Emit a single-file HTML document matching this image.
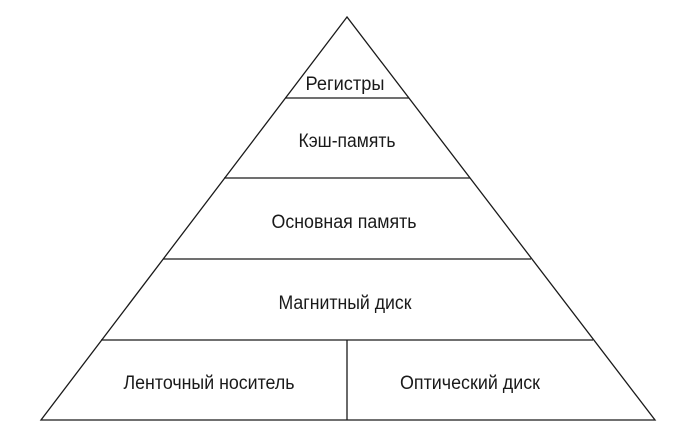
<!DOCTYPE html>
<html><head><meta charset="utf-8"><style>
html,body{margin:0;padding:0;background:#fff;width:691px;height:437px;overflow:hidden}
text{font-family:"Liberation Sans",Arial,sans-serif;font-size:19px;fill:#1a1a1a}
</style></head><body>
<svg width="691" height="437" viewBox="0 0 691 437" xmlns="http://www.w3.org/2000/svg">
<g stroke="#1a1a1a" stroke-width="1.3" fill="none">
<polygon points="347,17 41,420 655,420"/>
<line x1="285" y1="98" x2="409" y2="98"/>
<line x1="224" y1="178" x2="470" y2="178"/>
<line x1="163" y1="259" x2="531" y2="259"/>
<line x1="101" y1="340" x2="593" y2="340"/>
<line x1="347" y1="340" x2="347" y2="420"/>
</g>
<g text-anchor="middle">
<text x="345" y="90" textLength="79" lengthAdjust="spacingAndGlyphs">Регистры</text>
<text x="347" y="147" textLength="97" lengthAdjust="spacingAndGlyphs">Кэш-память</text>
<text x="344" y="228" textLength="145" lengthAdjust="spacingAndGlyphs">Основная память</text>
<text x="345" y="309" textLength="133" lengthAdjust="spacingAndGlyphs">Магнитный диск</text>
<text x="209" y="389" textLength="171" lengthAdjust="spacingAndGlyphs">Ленточный носитель</text>
<text x="470" y="389" textLength="140" lengthAdjust="spacingAndGlyphs">Оптический диск</text>
</g>
</svg>
</body></html>
